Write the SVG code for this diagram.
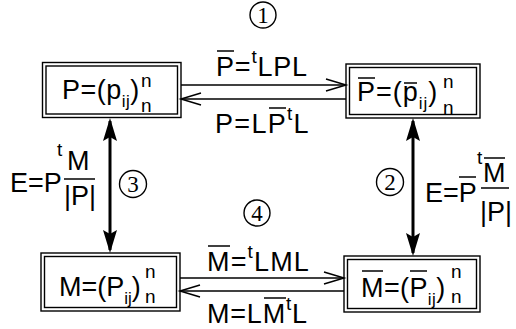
<svg xmlns="http://www.w3.org/2000/svg" width="516" height="329" viewBox="0 0 516 329">
  <style>
    .frame { fill: none; stroke: #000; stroke-width: 1.4; }
    .t { font-family: "Liberation Sans", Arial, sans-serif; font-size: 27px; fill: #000; }
    .s { font-family: "Liberation Sans", Arial, sans-serif; font-size: 19px; fill: #000; }
    .sub { font-size: 17px; }
    .d { font-family: "Liberation Serif", "Times New Roman", serif; font-size: 23px; fill: #000; text-anchor: middle; }
    .ring { fill: none; stroke: #000; stroke-width: 1.4; }
    .bar { stroke: #000; stroke-width: 1.5; }
    .thin { stroke: #000; stroke-width: 1.5; fill: none; marker-end: url(#open); }
    .thick { stroke: #000; stroke-width: 3; fill: none; marker-start: url(#solid); marker-end: url(#solid); }
  </style>
  <defs>
    <marker id="open" markerUnits="userSpaceOnUse" markerWidth="22" markerHeight="14" viewBox="0 0 22 14" refX="20" refY="7" orient="auto" overflow="visible">
      <path d="M0,1 L20,7 L0,13" fill="none" stroke="#000" stroke-width="1.5"/>
    </marker>
    <marker id="solid" markerUnits="userSpaceOnUse" markerWidth="24" markerHeight="16" viewBox="0 0 24 16" refX="20" refY="8" orient="auto-start-reverse" overflow="visible">
      <path d="M0,1 L23,8 L0,15 L4,8 z" fill="#000"/>
    </marker>
  </defs>

  <!-- connectors -->
  <g id="connectors">
    <line class="thin" x1="181" y1="85" x2="346" y2="85"/>
    <line class="thin" x1="346" y1="99" x2="181" y2="99"/>
    <line class="thin" x1="180" y1="278" x2="344" y2="278"/>
    <line class="thin" x1="344" y1="291" x2="180" y2="291"/>
    <line class="thick" x1="110" y1="121" x2="110" y2="250"/>
    <line class="thick" x1="413" y1="121" x2="413" y2="253"/>
  </g>

  <!-- node P -->
  <g id="node-P">
    <rect class="frame" x="42.5" y="62.5" width="138.5" height="55"/>
    <rect class="frame" x="46" y="66" width="131.5" height="48"/>
    <text class="t" x="62" y="99" letter-spacing="0.5">P=(p<tspan class="sub" dy="8">ij</tspan><tspan dy="-8">)</tspan></text>
    <text class="s" x="141" y="87">n</text>
    <text class="s" x="141" y="112">n</text>
  </g>

  <!-- node P-bar -->
  <g id="node-Pbar">
    <rect class="frame" x="346" y="64" width="134" height="54"/>
    <rect class="frame" x="349.5" y="67.5" width="127" height="47"/>
    <text class="t" x="357" y="101" letter-spacing="1">P=(p<tspan class="sub" dy="8">ij</tspan><tspan dy="-8">)</tspan></text>
    <line class="bar" x1="358" y1="78" x2="375" y2="78"/>
    <line class="bar" x1="404" y1="83" x2="417" y2="83"/>
    <text class="s" x="443" y="88">n</text>
    <text class="s" x="443" y="114">n</text>
  </g>

  <!-- node M -->
  <g id="node-M">
    <rect class="frame" x="41" y="253" width="139" height="58"/>
    <rect class="frame" x="44.5" y="256.5" width="132" height="51"/>
    <text class="t" x="59" y="296">M=(P<tspan class="sub" dy="8">ij</tspan><tspan dy="-8">)</tspan></text>
    <text class="s" x="145" y="278">n</text>
    <text class="s" x="145" y="303">n</text>
  </g>

  <!-- node M-bar -->
  <g id="node-Mbar">
    <rect class="frame" x="344" y="256" width="136" height="56"/>
    <rect class="frame" x="347.5" y="259.5" width="129" height="49"/>
    <text class="t" x="361" y="297" letter-spacing="0.4">M=(P<tspan class="sub" dy="8">ij</tspan><tspan dy="-8">)</tspan></text>
    <line class="bar" x1="362" y1="271" x2="383" y2="271"/>
    <line class="bar" x1="410" y1="271" x2="427" y2="271"/>
    <text class="s" x="451" y="278">n</text>
    <text class="s" x="451" y="303">n</text>
  </g>

  <!-- transformation labels -->
  <g id="label-top">
    <text class="t" x="216" y="76" letter-spacing="0.8">P=<tspan class="s" dy="-13">t</tspan><tspan dy="13">LPL</tspan></text>
    <line class="bar" x1="217" y1="51" x2="234" y2="51"/>
    <text class="t" x="215" y="133" letter-spacing="1.3">P=LP<tspan class="s" dy="-13">t</tspan><tspan dy="13">L</tspan></text>
    <line class="bar" x1="269" y1="108" x2="286" y2="108"/>
    <circle class="ring" cx="263" cy="15" r="13"/>
    <text class="d" x="263" y="23">1</text>
  </g>
  <g id="label-bottom">
    <text class="t" x="207" y="271" letter-spacing="1.15">M=<tspan class="s" dy="-13">t</tspan><tspan dy="13">LML</tspan></text>
    <line class="bar" x1="208" y1="246" x2="230" y2="246"/>
    <text class="t" x="207" y="323" letter-spacing="0.8">M=LM<tspan class="s" dy="-13">t</tspan><tspan dy="13">L</tspan></text>
    <line class="bar" x1="264" y1="298" x2="286" y2="298"/>
    <circle class="ring" cx="257" cy="213" r="13"/>
    <text class="d" x="257" y="221">4</text>
  </g>
  <g id="label-left">
    <text class="t" x="10" y="192">E=P</text>
    <text class="s" x="57" y="156">t</text>
    <text class="t" x="67" y="170">M</text>
    <line class="bar" x1="64" y1="179" x2="95" y2="179"/>
    <text class="t" x="64" y="205">|P|</text>
    <circle class="ring" cx="133" cy="184" r="13.5"/>
    <text class="d" x="133" y="192">3</text>
  </g>
  <g id="label-right">
    <text class="t" x="425" y="202">E=P</text>
    <line class="bar" x1="459" y1="177" x2="476" y2="177"/>
    <text class="s" x="477" y="164">t</text>
    <text class="t" x="483" y="182">M</text>
    <line class="bar" x1="484" y1="158" x2="505" y2="158"/>
    <line class="bar" x1="481" y1="188" x2="509" y2="188"/>
    <text class="t" x="480" y="221">|P|</text>
    <circle class="ring" cx="390" cy="182" r="13.5"/>
    <text class="d" x="390" y="190">2</text>
  </g>
</svg>
